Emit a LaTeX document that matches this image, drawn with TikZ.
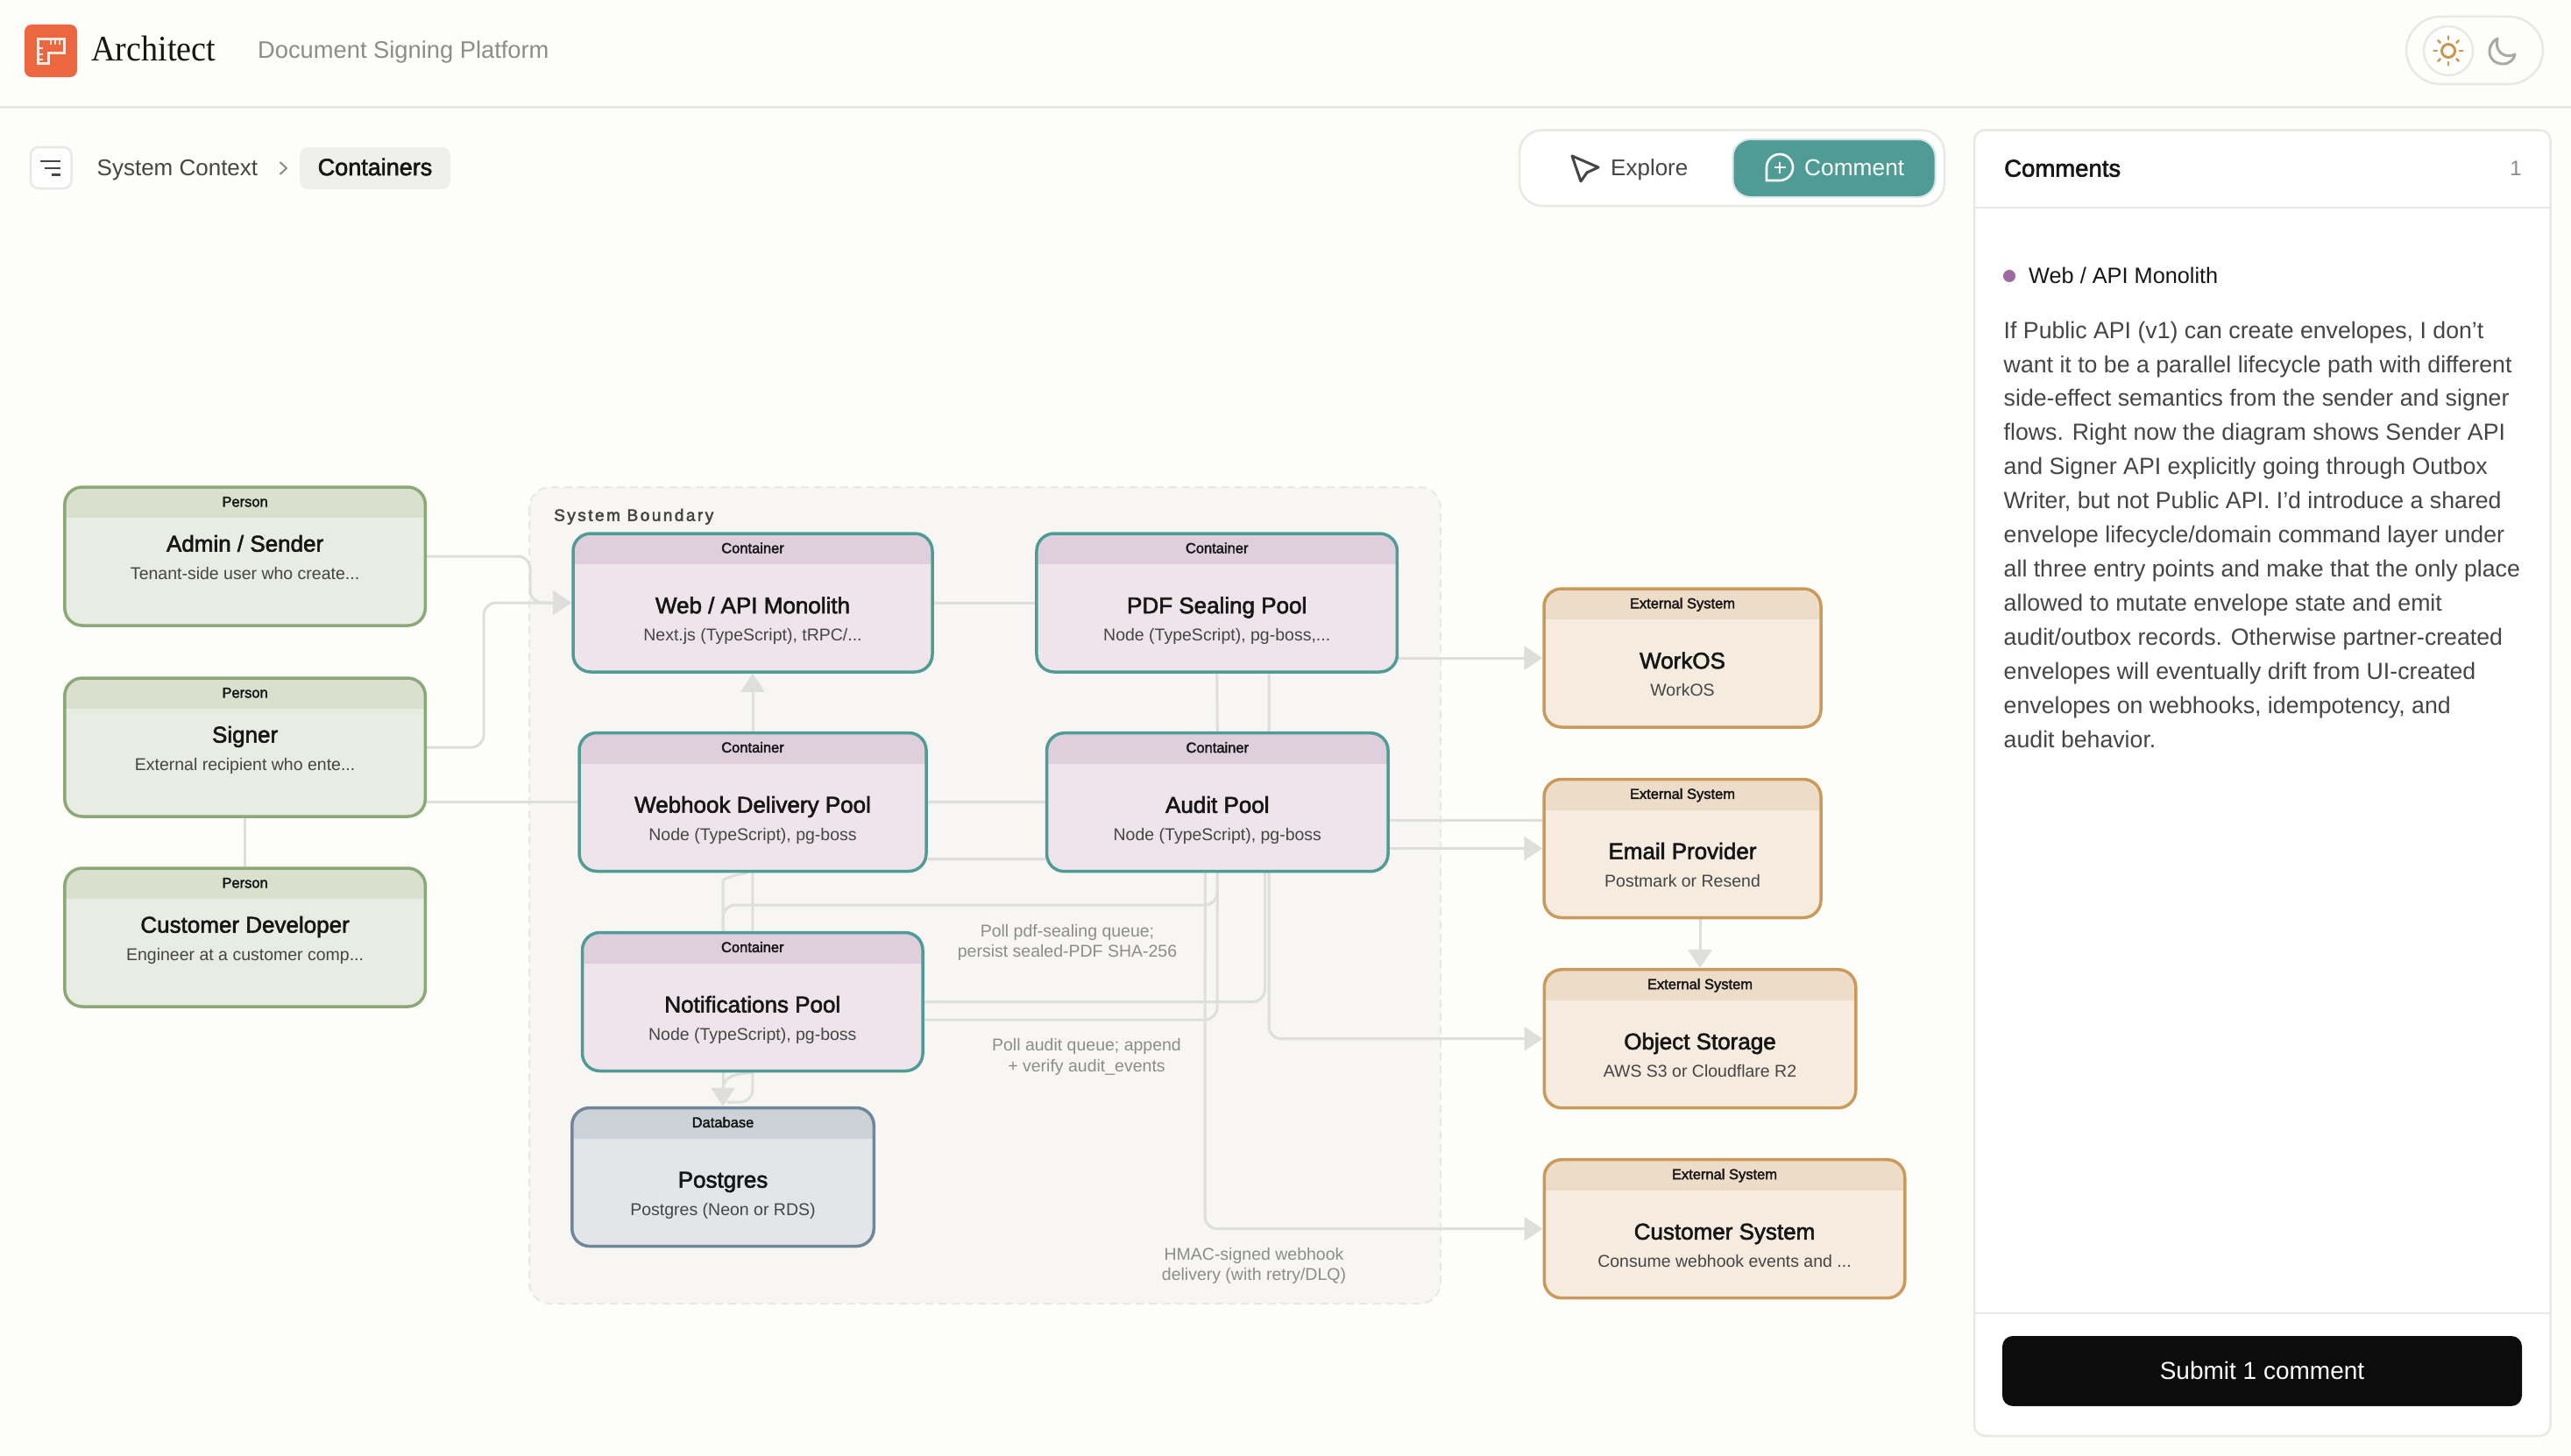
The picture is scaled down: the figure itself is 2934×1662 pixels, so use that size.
\documentclass[tikz,border=0pt]{standalone}
\usepackage{fontspec}
\setmainfont{Liberation Sans}
\newfontfamily\medfont[FakeBold=2.2]{Liberation Sans}
\newfontfamily\spacedfont[FakeBold=2.6, LetterSpace=13]{Liberation Sans}
\newfontfamily\logofont{Liberation Serif}
\usetikzlibrary{arrows.meta, backgrounds, calc}
\definecolor{pageBg}{HTML}{FDFDF9}
\definecolor{ruleGray}{HTML}{E8E8E4}
\definecolor{linkGray}{HTML}{DEDEDC}
\definecolor{tealMain}{HTML}{4F9C96}
\definecolor{textDark}{HTML}{161616}
\definecolor{textMid}{HTML}{454545}
\definecolor{textSoft}{HTML}{8C8C88}
\definecolor{BoundaryBg}{HTML}{F7F6F3}
\definecolor{LogoOrange}{HTML}{EC6640}
\definecolor{LogoCream}{HTML}{F8E9DF}
\definecolor{SunColor}{HTML}{C9954F}
\definecolor{MoonColor}{HTML}{A8A8A8}
\definecolor{CrumbBg}{HTML}{EFEFEC}
\definecolor{DotColor}{HTML}{9C6AA0}
\definecolor{SubmitBg}{HTML}{0C0C0C}
\definecolor{HeadPerson}{HTML}{D9E1CE}
\definecolor{BodyPerson}{HTML}{E8ECE3}
\definecolor{BorderPerson}{HTML}{8BA876}
\definecolor{HeadContainer}{HTML}{DFCFDD}
\definecolor{BodyContainer}{HTML}{EEE4EA}
\definecolor{BorderContainer}{HTML}{4F9C96}
\definecolor{HeadDatabase}{HTML}{CBD3D8}
\definecolor{BodyDatabase}{HTML}{E2E6E9}
\definecolor{BorderDatabase}{HTML}{6F879B}
\definecolor{HeadExternal}{HTML}{ECDCC8}
\definecolor{BodyExternal}{HTML}{F5EBDF}
\definecolor{BorderExternal}{HTML}{CB9A5A}
\newcommand{\pxfont}[1]{\fontsize{#1}{#1}\selectfont}
% box with a header band: [title shift], style, name, centre, width, kind, title, subtitle
\newcommand{\elembox}[8][-9.5]{%
  \node[#2, minimum width=#5+3.5pt] (#3) at (#4) {};
  \node[kindtext] (#3Kind) at ([yshift=-21.5pt]#3.north) {#6};
  \node[titletext] (#3Title) at ([yshift=#1pt]#3.center) {#7};
  \node[subtext] (#3Sub) at ([yshift=#1pt-31.5pt]#3.center) {#8};
}

\begin{document}
\begin{tikzpicture}[x=1pt, y=-1pt]
    \useasboundingbox (0,0) rectangle (2934,1662);
    \tikzset{elem/.style = {shape=rectangle, draw, rounded corners=20pt, line width=3.5pt, minimum height=158pt, inner sep=0pt,
        path picture={\fill[#1, sharp corners] (path picture bounding box.north west) rectangle ([yshift=-35pt]path picture bounding box.north east);}}}
    \tikzset{person/.style = {elem={HeadPerson}, draw=BorderPerson, fill=BodyPerson}}
    \tikzset{container/.style = {elem={HeadContainer}, draw=BorderContainer, fill=BodyContainer}}
    \tikzset{database/.style = {elem={HeadDatabase}, draw=BorderDatabase, fill=BodyDatabase}}
    \tikzset{external/.style = {elem={HeadExternal}, draw=BorderExternal, fill=BodyExternal}}
    \tikzset{kindtext/.style = {anchor=mid, inner sep=0pt, text=textDark, font=\medfont\pxfont{16.5}}}
    \tikzset{titletext/.style = {anchor=mid, inner sep=0pt, text=textDark, font=\medfont\pxfont{26}}}
    \tikzset{subtext/.style = {anchor=mid, inner sep=0pt, text=textMid, font=\pxfont{19.5}}}
    \tikzset{linklabel/.style = {inner sep=0pt, align=center, text=textSoft, font=\fontsize{19.5}{23.5}\selectfont}}
    \tikzset{uitext/.style = {anchor=mid, inner sep=0pt, text=textDark}}
    \tikzset{edge/.style = {linkGray, line width=3pt, rounded corners=14pt}}
    \tikzset{arrow/.style = {edge, -{Triangle[length=21pt, width=27pt]}}}

    \begin{scope}[on background layer]
        \fill[pageBg] (0,0) rectangle (2934,1662);
        \draw[ruleGray, line width=2.5pt] (0,122.5) -- (2934,122.5);
        \draw[ruleGray, fill=BoundaryBg, line width=2pt, dash pattern=on 9pt off 6pt, rounded corners=24pt] (604,556) rectangle (1644,1488);
    \end{scope}

    % top bar
    \fill[LogoOrange, rounded corners=8pt] (28,28) rectangle (88,88);
    \draw[LogoCream, line width=3pt, line join=miter] (43.5,44.5) -- (73,44.5) -- (73,61) -- (55,61) -- (55,73) -- (43.5,73) -- cycle;
    \foreach \tx in {58,63,68} {\draw[LogoCream, line width=2pt] (\tx,46) -- (\tx,51);}
    \foreach \ty in {55,62,68} {\draw[LogoCream, line width=2pt] (45,\ty) -- (49,\ty);}
    \node[uitext, anchor=mid west, font=\logofont\pxfont{41}, xscale=0.93] (appName) at (104,67) {Architect};
    \node[uitext, anchor=mid west, text=textSoft, font=\pxfont{27.3}] (projectName) at (294,63.5) {Document Signing Platform};
    \draw[ruleGray, fill=pageBg, line width=2.5pt, rounded corners=39pt] (2746,19) rectangle (2902,96);
    \draw[ruleGray, fill=white, line width=2.5pt] (2794,58) circle (28);
    \draw[SunColor, line width=3pt] (2794,58) circle (7.5);
    \foreach \a in {0,45,...,315} {\draw[SunColor, line width=2.5pt, line cap=round] ($(2794,58)+(\a:13)$) -- ($(2794,58)+(\a:16.5)$);}
    \draw[MoonColor, line width=3pt, line join=round] (2850,44) .. controls (2836,52) and (2838,72) .. (2856,73) .. controls (2864,73) and (2869,68) .. (2870,62) .. controls (2858,68) and (2846,58) .. cycle;

    % breadcrumb
    \draw[ruleGray, fill=white, line width=2.5pt, rounded corners=9pt] (35,168) rectangle (81.5,215);
    \draw[textMid, line width=2.8pt] (46,184) -- (69,184);
    \draw[textMid, line width=2.8pt] (51,192) -- (69,192);
    \draw[textMid, line width=2.8pt] (58.5,199.5) -- (69,199.5);
    \node[uitext, anchor=mid west, text=textMid, font=\pxfont{26}] (crumbContext) at (110.5,197.5) {System Context};
    \draw[textSoft, line width=2pt] (319.5,185) -- (327,192) -- (319.5,199);
    \node[fill=CrumbBg, rounded corners=10pt, minimum width=172pt, minimum height=48pt, inner sep=0pt] (crumbPill) at (428,192) {};
    \node[uitext, font=\medfont\pxfont{27}] (crumbContainers) at ([yshift=-5.5pt]crumbPill.center) {Containers};

    % mode switch
    \draw[ruleGray, fill=white, line width=2.5pt, rounded corners=26pt] (1734,148.5) rectangle (2219,235);
    \node[fill=tealMain, draw=tealMain!25, line width=2pt, rounded corners=20pt, minimum width=231pt, minimum height=66pt, inner sep=0pt] (commentBtn) at (2093,192) {};
    \draw[textMid, line width=3pt, line join=round] (1794,178) -- (1824,191) -- (1811,197) -- (1804,207) -- cycle;
    \node[uitext, anchor=mid west, text=textMid, font=\pxfont{26}] (exploreText) at (1838,197.5) {Explore};
    \draw[white, line width=2.6pt] (2016,191) arc[start angle=180, end angle=450, radius=15] -- (2016,206) -- cycle;
    \draw[white, line width=2.3pt] (2031,184.5) -- (2031,197.5);
    \draw[white, line width=2.3pt] (2024.5,191) -- (2037.5,191);
    \node[uitext, anchor=mid west, text=white, font=\pxfont{26.3}] (commentText) at (2059,197.5) {Comment};

    % comments panel
    \draw[ruleGray, fill=white, line width=2.5pt, rounded corners=12pt] (2253,148.5) rectangle (2910.5,1639);
    \draw[ruleGray, line width=2.5pt] (2253,237) -- (2910.5,237);
    \draw[ruleGray, line width=2.5pt] (2253,1499) -- (2910.5,1499);
    \node[uitext, anchor=mid west, font=\medfont\pxfont{27.5}] (panelTitle) at (2287,199) {Comments};
    \node[uitext, text=textSoft, font=\pxfont{24}] (panelCount) at (2871,198) {1};
    \fill[DotColor] (2293,315) circle (7);
    \node[uitext, anchor=mid west, font=\pxfont{25.3}] (commentTarget) at (2315,321) {Web / API Monolith};
    \node[inner sep=0pt, anchor=north west, align=left, text=textMid, font=\fontsize{26.7}{38.95}\selectfont] (commentBody) at (2286.5,366.5) {If Public API (v1) can create envelopes, I don’t\\
want it to be a parallel lifecycle path with different\\
side-effect semantics from the sender and signer\\
flows. Right now the diagram shows Sender API\\
and Signer API explicitly going through Outbox\\
Writer, but not Public API. I’d introduce a shared\\
envelope lifecycle/domain command layer under\\
all three entry points and make that the only place\\
allowed to mutate envelope state and emit\\
audit/outbox records. Otherwise partner-created\\
envelopes will eventually drift from UI-created\\
envelopes on webhooks, idempotency, and\\
audit behavior.};
    \node[fill=SubmitBg, rounded corners=12pt, minimum width=593pt, minimum height=80pt, inner sep=0pt] (submitBtn) at (2581.5,1565) {};
    \node[uitext, text=white, font=\pxfont{28}] (submitText) at ([yshift=-7pt]submitBtn.center) {Submit 1 comment};

    % vertices
    \elembox[8]{person}{admin}{279.6,635}{408pt}{Person}{Admin / Sender}{Tenant-side user who create...}
    \elembox[8]{person}{signer}{279.6,853}{408pt}{Person}{Signer}{External recipient who ente...}
    \elembox[8]{person}{custdev}{279.6,1070}{408pt}{Person}{Customer Developer}{Engineer at a customer comp...}
    \elembox{container}{web}{859,688}{406.5pt}{Container}{Web / API Monolith}{Next.js (TypeScript), tRPC/...}
    \elembox{container}{pdf}{1388.7,688}{408pt}{Container}{PDF Sealing Pool}{Node (TypeScript), pg-boss,...}
    \elembox{container}{webhook}{859,915.5}{392.5pt}{Container}{Webhook Delivery Pool}{Node (TypeScript), pg-boss}
    \elembox{container}{audit}{1389.3,915.7}{386pt}{Container}{Audit Pool}{Node (TypeScript), pg-boss}
    \elembox{container}{notif}{858.8,1143.5}{385pt}{Container}{Notifications Pool}{Node (TypeScript), pg-boss}
    \elembox{database}{postgres}{825,1343.5}{341pt}{Database}{Postgres}{Postgres (Neon or RDS)}
    \elembox{external}{workos}{1920,751}{312.5pt}{External System}{WorkOS}{WorkOS}
    \elembox{external}{email}{1920,968.5}{312.5pt}{External System}{Email Provider}{Postmark or Resend}
    \elembox{external}{object}{1940,1185.7}{352pt}{External System}{Object Storage}{AWS S3 or Cloudflare R2}
    \elembox{external}{customer}{1968,1402.7}{408pt}{External System}{Customer System}{Consume webhook events and ...}
    \node[anchor=mid west, inner sep=0pt, text=textMid, font=\spacedfont\pxfont{19}] (boundaryName) at (632,592) {System Boundary};
    \node[linklabel] (pollPdf) at (1218,1076) {Poll pdf-sealing queue;\\persist sealed-PDF SHA-256};
    \node[linklabel] (pollAudit) at (1240,1206.5) {Poll audit queue; append\\+ verify audit\_events};
    \node[linklabel] (hmacNote) at (1431,1445) {HMAC-signed webhook\\delivery (with retry/DLQ)};

    %edges
    \begin{scope}[on background layer]
        \draw[arrow] (admin.east) -- (605,635) -- (605,688) -- (web.west);
        \draw[arrow] (signer.east) -- (552,853) -- (552,688) -- (web.west);
        \draw[edge] (signer.east |- webhook.west) -- (webhook.west);
        \draw[edge] (custdev.north) -- (signer.south);
        \draw[edge] (web.east) -- (pdf.west);
        \draw[edge] (webhook.east) -- (audit.west);
        \draw[edge] ([yshift=-65pt]webhook.east) -- ([yshift=-65pt]audit.west);
        \draw[arrow] (webhook.north) -- (web.south);
        \draw[edge] (webhook.south) -- (notif.north);
        \draw[edge] ([xshift=-6pt]webhook.south) .. controls (832,1000) and (825,1004) .. (825,1020) -- (825,1064);
        \draw[edge] (audit.south) -- (1389,1033) -- (825,1033) -- (825,1064);
        \draw[edge] (pdf.south) -- (audit.north);
        \draw[arrow] ([xshift=59.5pt]pdf.south) -- (1448,1185.7) -- (object.west);
        \draw[edge] (notif.east) -- (1443.5,1143.5) -- (1443.5,996);
        \draw[edge] ([yshift=-20.5pt]notif.east) -- (1389,1164) -- (audit.south);
        \draw[arrow] ([xshift=-14pt]audit.south) -- (1375,1402.7) -- (customer.west);
        \draw[arrow] (workos.west -| pdf.east) -- (workos.west);
        \draw[edge] ([yshift=32pt]email.west -| audit.east) -- ([yshift=32pt]email.west);
        \draw[arrow] (email.west -| audit.east) -- (email.west);
        \draw[arrow] (object.north |- email.south) -- (object.north);
        \draw[arrow] (postgres.north |- notif.south) -- (postgres.north);
        \draw[edge] (notif.south) -- (859,1258) -- (830,1258);
        \draw[edge] (notif.south) .. controls (838,1226) and (825,1228) .. (825,1245);
    \end{scope}
\end{tikzpicture}
\end{document}
